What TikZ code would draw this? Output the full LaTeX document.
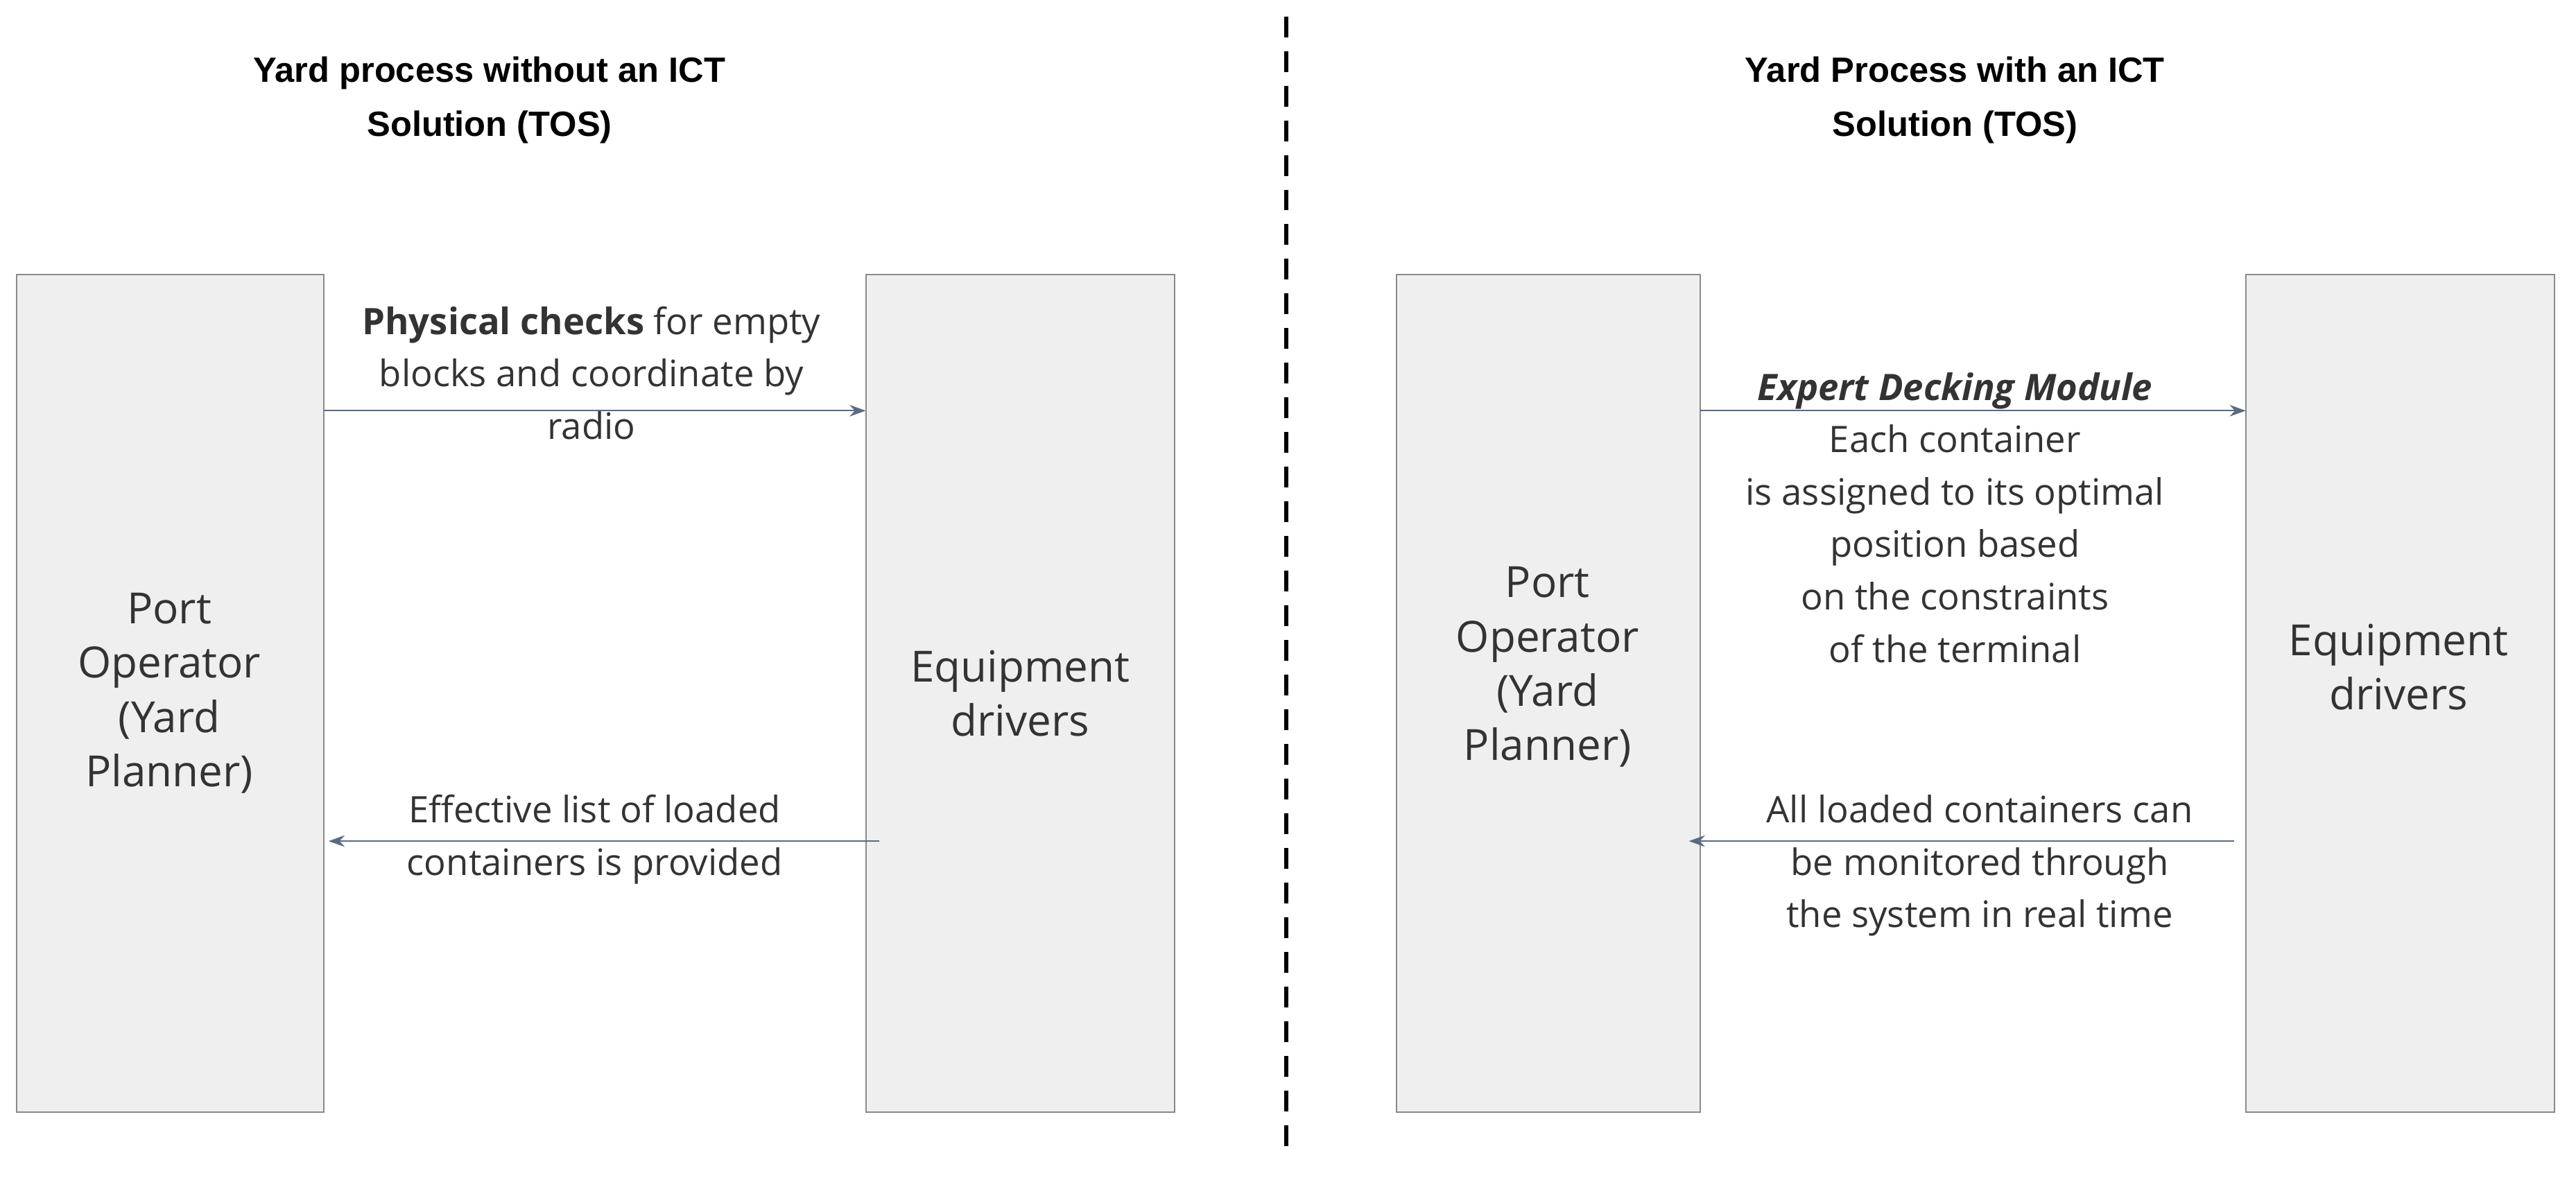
\documentclass[tikz,border=0pt]{standalone}
\usepackage{fontspec}
\setmainfont{Open Sans}
\newfontfamily\titlefont{Liberation Sans}
\usetikzlibrary{arrows.meta}
\definecolor{boxfill}{HTML}{EFEFEF}
\definecolor{boxline}{HTML}{8A8A8A}
\definecolor{arr}{HTML}{5A6A80}
\definecolor{txt}{HTML}{333333}
\begin{document}
\begin{tikzpicture}[x=0.25mm,y=-0.25mm,
  box/.style={draw=boxline,fill=boxfill,line width=0.6pt},
  conn/.style={draw=arr,line width=0.6pt,-{Stealth[length=7pt,width=5pt]}},
  lab/.style={align=center,font=\fontsize{15.8}{22.7}\selectfont,text=txt,inner sep=0pt},
  big/.style={align=center,font=\fontsize{18.6}{23.5}\selectfont,text=txt,inner sep=0pt},
  ttl/.style={align=center,font=\titlefont\bfseries\fontsize{15.2}{23.5}\selectfont,inner sep=0pt}]
\useasboundingbox (0,0) rectangle (1568,717);
% left
\node[ttl] (t1) at (298,61) {Yard process without an ICT\\Solution (TOS)};
\draw[box] (10,167) rectangle (197,677);
\draw[box] (527,167) rectangle (715,677);
\coordinate (a1) at (197,250); \coordinate (b1) at (527,250);
\coordinate (c1) at (535,512); \coordinate (d1) at (200,512);
\draw[conn] (a1) -- (b1);
\draw[conn] (c1) -- (d1);
\node[lab] (l1) at (360,227) {\textbf{Physical checks} for empty\\blocks and coordinate by\\radio};
\node[lab] (l2) at (362,511) {Effective list of loaded\\containers is provided};
\node[big] (p1) at (103,422) {Port\\Operator\\(Yard\\Planner)};
\node[big] (e1) at (621,422) {Equipment\\drivers};
% divider
\coordinate (v1) at (783,10); \coordinate (v2) at (783,705);
\draw[line width=1.6pt,dash pattern=on 9pt off 6pt] (v1) -- (v2);
% right
\node[ttl] (t2) at (1190,61) {Yard Process with an ICT\\Solution (TOS)};
\draw[box] (850,167) rectangle (1035,677);
\draw[box] (1367,167) rectangle (1555,677);
\coordinate (a2) at (1035,250); \coordinate (b2) at (1367,250);
\coordinate (c2) at (1360,512); \coordinate (d2) at (1028,512);
\draw[conn] (a2) -- (b2);
\draw[conn] (c2) -- (d2);
\node[lab] (l3) at (1190,315) {\textbf{\textit{Expert Decking Module}}\\Each container\\is assigned to its optimal\\position based\\on the constraints\\of the terminal};
\node[lab] (l4) at (1205,527) {All loaded containers can\\be monitored through\\the system in real time};
\node[big] (p2) at (942,406) {Port\\Operator\\(Yard\\Planner)};
\node[big] (e2) at (1460,406) {Equipment\\drivers};
\end{tikzpicture}
\end{document}
